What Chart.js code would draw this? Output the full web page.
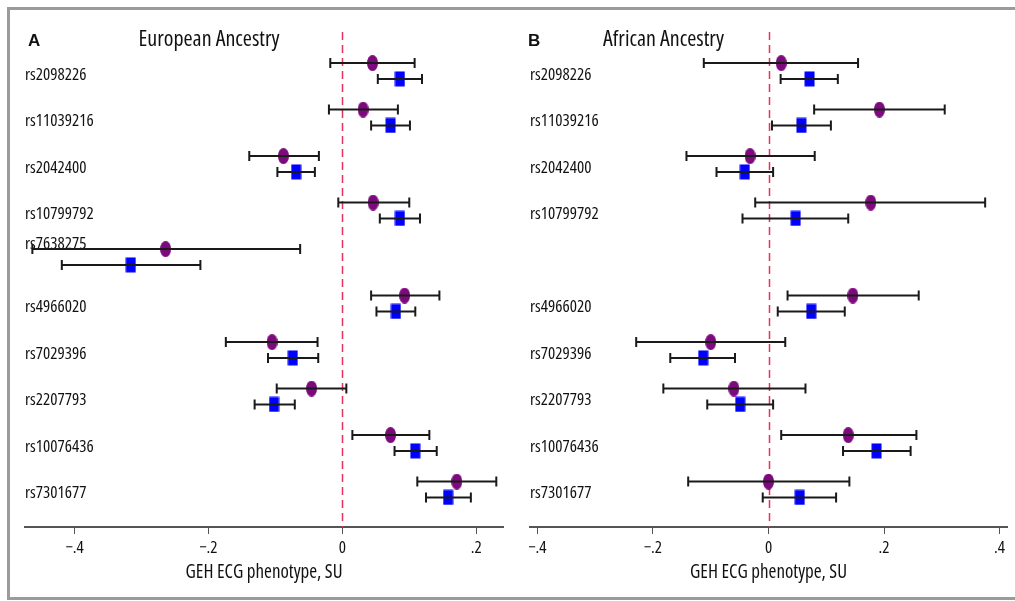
<!DOCTYPE html>
<html>
<head>
<meta charset="utf-8">
<script src="https://cdn.jsdelivr.net/npm/chart.js@4.4.1/dist/chart.umd.min.js"></script>
<style>
  html, body { margin: 0; padding: 0; background: #fff; }
  body { width: 1015px; height: 601px; position: relative; overflow: hidden; }
  .edge { position: absolute; background: #9b9b9b; pointer-events: none; z-index: 11; }
  #edgeTop { left: 7px; top: 7px; width: 1008px; height: 3px; }
  #edgeLeft { left: 7px; top: 7px; width: 3px; height: 593px; }
  #edgeBottom { left: 7px; top: 597px; width: 1008px; height: 3px; }
  #cover { position: absolute; left: 1010px; top: 10px; width: 10px; height: 587px; background: #fff; z-index: 10; }
  canvas { position: absolute; top: 0; }
  #chartA { left: 0; }
  #chartB { left: 510px; }
</style>
</head>
<body>
<canvas id="chartA" width="510" height="601"></canvas>
<canvas id="chartB" width="504" height="601"></canvas>
<div id="cover"></div>
<div class="edge" id="edgeTop"></div>
<div class="edge" id="edgeLeft"></div>
<div class="edge" id="edgeBottom"></div>
<script>
// SNP rows, top to bottom
const snps = ['rs2098226', 'rs11039216', 'rs2042400', 'rs10799792', 'rs7638275',
              'rs4966020', 'rs7029396', 'rs2207793', 'rs10076436', 'rs7301677'];

// European ancestry, purple ellipse (estimate, lower, upper)
const eurPurple   = [0.045, 0.031, -0.088, 0.046, -0.264, 0.093, -0.105, -0.046, 0.072, 0.171];
const eurPurpleLo = [-0.018, -0.020, -0.139, -0.006, -0.463, 0.043, -0.174, -0.098, 0.015, 0.112];
const eurPurpleHi = [0.108, 0.083, -0.035, 0.100, -0.063, 0.145, -0.037, 0.006, 0.130, 0.230];
// European ancestry, blue square
const eurBlue   = [0.086, 0.072, -0.069, 0.086, -0.316, 0.080, -0.074, -0.102, 0.109, 0.158];
const eurBlueLo = [0.053, 0.043, -0.097, 0.056, -0.419, 0.051, -0.111, -0.131, 0.078, 0.125];
const eurBlueHi = [0.119, 0.101, -0.041, 0.116, -0.212, 0.109, -0.036, -0.071, 0.141, 0.192];

// African ancestry (rs7638275 not shown)
const afrPurple   = [0.022, 0.192, -0.032, 0.177, null, 0.146, -0.100, -0.060, 0.138, 0.000];
const afrPurpleLo = [-0.112, 0.079, -0.142, -0.023, null, 0.033, -0.229, -0.182, 0.022, -0.139];
const afrPurpleHi = [0.155, 0.305, 0.080, 0.375, null, 0.260, 0.029, 0.064, 0.256, 0.140];
const afrBlue   = [0.071, 0.057, -0.041, 0.047, null, 0.074, -0.113, -0.049, 0.187, 0.054];
const afrBlueLo = [0.021, 0.006, -0.090, -0.045, null, 0.016, -0.170, -0.106, 0.129, -0.010];
const afrBlueHi = [0.120, 0.108, 0.008, 0.138, null, 0.132, -0.058, 0.008, 0.246, 0.117];

const eurTicks = [-0.4, -0.2, 0, 0.2];
const afrTicks = [-0.4, -0.2, 0, 0.2, 0.4];

// Open Sans has a width axis; "condensed" goes in the weight slot of the font string
const FAMILY = '"Open Sans", "Roboto Condensed", sans-serif';
const COND = 'condensed';

function marker(shape, color) {
  const c = document.createElement('canvas');
  c.width = 11; c.height = 16;
  const g = c.getContext('2d');
  g.fillStyle = color;
  if (shape === 'ellipse') {
    g.beginPath();
    g.ellipse(5.5, 8, 5.5, 8, 0, 0, Math.PI * 2);
    g.fill();
  } else {
    g.fillRect(0.5, 0.5, 10, 15);
  }
  return c;
}
const purpleDot = marker('ellipse', '#7d0a7d');
const blueSquare = marker('rect', '#0000ff');

function points(vals, shift) {
  const out = [];
  vals.forEach((v, i) => { if (v !== null) out.push({ x: v, y: i + 1 + shift }); });
  return out;
}
function ranges(lo, hi, shift) {
  const out = [];
  lo.forEach((l, i) => { if (l !== null) out.push({ lo: l, hi: hi[i], y: i + 1 + shift }); });
  return out;
}

const errorBars = {
  id: 'errorBars',
  afterDatasetsDraw(chart) {
    const { ctx, scales: { x, y } } = chart;
    ctx.save();
    ctx.strokeStyle = '#1a1a1a';
    ctx.lineWidth = 2;
    chart.data.datasets.forEach(ds => {
      (ds.bars || []).forEach(b => {
        const x1 = x.getPixelForValue(b.lo), x2 = x.getPixelForValue(b.hi);
        const py = y.getPixelForValue(b.y);
        ctx.beginPath();
        ctx.moveTo(x1, py); ctx.lineTo(x2, py);
        ctx.moveTo(x1, py - 5); ctx.lineTo(x1, py + 5);
        ctx.moveTo(x2, py - 5); ctx.lineTo(x2, py + 5);
        ctx.stroke();
      });
    });
    ctx.restore();
  }
};

const zeroLine = {
  id: 'zeroLine',
  beforeDatasetsDraw(chart) {
    const { ctx, chartArea, scales: { x } } = chart;
    const px = Math.round(x.getPixelForValue(0)) + 0.5;
    ctx.save();
    ctx.strokeStyle = '#e2335f';
    ctx.lineWidth = 1.5;
    ctx.setLineDash([8, 5]);
    ctx.beginPath();
    ctx.moveTo(px, chartArea.top + 2);
    ctx.lineTo(px, chartArea.bottom);
    ctx.stroke();
    ctx.restore();
  }
};

const heading = {
  id: 'heading',
  afterDraw(chart) {
    const h = chart.options.plugins.heading;
    const ctx = chart.ctx;
    ctx.save();
    ctx.fillStyle = '#111';
    ctx.textBaseline = 'alphabetic';
    ctx.font = 'bold 17px "Liberation Sans", Arial, sans-serif';
    ctx.textAlign = 'left';
    ctx.fillText(h.letter, h.letterX, 46);
    ctx.font = COND + ' 22px ' + FAMILY;
    ctx.textAlign = 'center';
    ctx.fillText(h.title, h.titleX, 46);
    ctx.restore();
  }
};

function fmt(v) {
  if (Math.abs(v) < 1e-9) return '0';
  const s = Math.abs(v).toFixed(1).replace(/^0/, '');
  return (v < 0 ? '\u2212' : '') + s;
}

// the rs7638275 label sits a little above its row in panel A
const labelShift = { 4: -0.37 };

function panel(id, p) {
  return new Chart(document.getElementById(id), {
    type: 'scatter',
    data: {
      datasets: [
        { data: points(p.purple, -0.17), bars: ranges(p.purpleLo, p.purpleHi, -0.17),
          pointStyle: purpleDot, pointRadius: 6, backgroundColor: '#7d0a7d' },
        { data: points(p.blue, 0.17), bars: ranges(p.blueLo, p.blueHi, 0.17),
          pointStyle: blueSquare, pointRadius: 6, backgroundColor: '#0000ff' }
      ]
    },
    options: {
      responsive: false,
      animation: false,
      events: [],
      layout: { padding: { left: p.padLeft, right: 7, top: 30, bottom: 17 } },
      plugins: {
        legend: { display: false },
        tooltip: { enabled: false },
        heading: { letter: p.letter, letterX: p.letterX, title: p.title, titleX: p.titleX }
      },
      scales: {
        x: {
          type: 'linear',
          min: p.xMin, max: p.xMax,
          afterBuildTicks: s => { s.ticks = p.ticks.map(v => ({ value: v })); },
          afterFit: s => { s.height = 57; },
          border: { display: true, color: '#555', width: 2 },
          grid: { drawOnChartArea: false, drawTicks: true, tickLength: 7, color: '#555', lineWidth: 1 },
          ticks: { color: '#111', padding: 4, font: { family: FAMILY, weight: COND, size: 17 },
                   callback: v => fmt(v) },
          title: { display: true, text: 'GEH ECG phenotype, SU', color: '#111',
                   font: { family: FAMILY, weight: COND, size: 19 }, padding: { top: 0, bottom: 0 } }
        },
        y: {
          type: 'linear',
          reverse: true,
          min: 0.118, max: 10.806,
          afterBuildTicks: s => {
            s.ticks = snps.map((n, i) => ({ value: i + 1 + (p.hidden.includes(i) ? 0 : (labelShift[i] || 0)) }));
          },
          afterFit: s => { s.width = 0; },
          border: { display: false },
          grid: { display: false },
          ticks: {
            mirror: true, padding: 0, labelOffset: 4, color: '#111',
            font: { family: FAMILY, weight: COND, size: 17 },
            callback: (v, i) => (p.hidden.includes(i) ? '' : snps[i])
          }
        }
      }
    },
    plugins: [zeroLine, errorBars, heading]
  });
}

panel('chartA', {
  purple: eurPurple, purpleLo: eurPurpleLo, purpleHi: eurPurpleHi,
  blue: eurBlue, blueLo: eurBlueLo, blueHi: eurBlueHi,
  xMin: -0.474, xMax: 0.240, ticks: eurTicks, padLeft: 25,
  letter: 'A', letterX: 28, title: 'European Ancestry', titleX: 209, hidden: []
});
panel('chartB', {
  purple: afrPurple, purpleLo: afrPurpleLo, purpleHi: afrPurpleHi,
  blue: afrBlue, blueLo: afrBlueLo, blueHi: afrBlueHi,
  xMin: -0.4128, xMax: 0.4128, ticks: afrTicks, padLeft: 20,
  letter: 'B', letterX: 18, title: 'African Ancestry', titleX: 153.5, hidden: [4]
});
</script>
</body>
</html>
